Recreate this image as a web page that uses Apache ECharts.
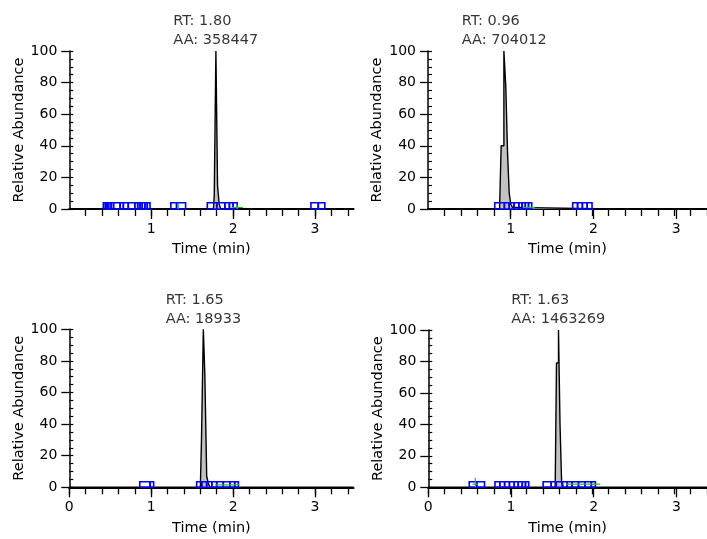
<!DOCTYPE html>
<html><head><meta charset="utf-8">
<script src="https://cdn.jsdelivr.net/npm/echarts@6/dist/echarts.min.js"></script>
<style>html,body{margin:0;padding:0;background:#fff}#c{width:707px;height:539px}</style>
</head><body><div id="c"></div>
<script>
// ---------- DATA ----------
const panelRT = [1.80, 0.96, 1.65, 1.63];
const panelRTText = ['1.80', '0.96', '1.65', '1.63'];
const panelAA = ['358447', '704012', '18933', '1463269'];
const xTickLabels = ['0', '1', '2', '3'];
const yTickStep = 20;
const xName = 'Time (min)';
const yName = 'Relative Abundance';

// chromatogram traces [time, relative abundance] (scan-by-scan)
const trace1 = [[0,0],[1.76,0],[1.78,9],[1.80,100],[1.82,15],[1.84,3],[1.86,0],[3.47,0]];
const trace2 = [[0,0],[0.89,0],[0.93,40],[0.958,100],[0.978,77],[1.00,36],[1.02,10],[1.04,3],[1.06,1],[1.09,0],[3.47,0]];
const trace3 = [[0,0],[1.60,0],[1.628,30],[1.645,100],[1.665,71],[1.69,7],[1.71,2],[1.73,0],[3.47,0]];
const trace4 = [[0,0],[1.58,0],[1.612,79],[1.63,100],[1.65,40],[1.67,3],[1.69,0],[3.47,0]];

// detected-peak box edges (time), groups of adjacent boxes
const boxes1 = [[0.415,0.44,0.46,0.48,0.51,0.54,0.62,0.66,0.72,0.80,0.835,0.863,0.89,0.924,0.952,0.985],[1.24,1.31,1.42],[1.685,1.80,1.90,1.955,2.0,2.05],[2.95,3.04,3.12]];
const boxes2 = [[0.83,0.95,1.01,1.07,1.13,1.17,1.21,1.25,1.29],[1.80,1.86,1.92,1.98,2.04]];
const boxes3 = [[0.86,0.985,1.03],[1.555,1.617,1.677,1.74,1.80,1.88,1.96,2.02,2.064]];
const boxes4 = [[0.51,0.605,0.70],[0.83,0.89,0.95,1.01,1.07,1.12,1.17,1.21,1.25],[1.43,1.53,1.59,1.67,1.73,1.79,1.87,1.95,2.03,2.08]];
const boxHeight = [4, 4, 3.5, 3.5];

// baseline markers [t0, y0, t1, y1]
const green1 = [[1.33,0,1.33,4],[1.98,1,2.12,1],[2.05,0,2.05,2.5]];
const green2 = [[1.18,1,1.33,1]];
const green3 = [[1.78,1.5,2.08,1.5]];
const green4 = [[0.585,0,0.585,6],[0.55,2,0.62,2],[1.72,2,2.14,2]];

const xMax = 3.47;

// ---------- LAYOUT ----------
const traces = [trace1, trace2, trace3, trace4];
const boxes = [boxes1, boxes2, boxes3, boxes4];
const greens = [green1, green2, green3, green4];
const panels = [
  {x0: 69.3, top: 51, h: 158, s: 81.9, topRow: true},
  {x0: 428, top: 51, h: 158, s: 82.7, topRow: true},
  {x0: 69.3, top: 329.3, h: 158, s: 81.9, topRow: false},
  {x0: 428.3, top: 330, h: 157.3, s: 82.7, topRow: false}
];
const FONT = '"DejaVu Sans", Arial, sans-serif';
const TXT = '#000';

const mctx = document.createElement('canvas').getContext('2d');
mctx.font = '14.5px "DejaVu Sans"';

const grids = [], xAxes = [], yAxes = [], series = [];

panels.forEach((p, i) => {
  // main grid
  const g = grids.length;
  grids.push({left: p.x0, top: p.top, width: xMax * p.s, height: p.h});
  const xi = xAxes.length;
  xAxes.push({
    gridIndex: g, type: 'value', min: 0, max: xMax,
    axisLine: {show: true, onZero: false, lineStyle: {color: '#000', width: 2.2}},
    axisTick: {show: false}, axisLabel: {show: false}, splitLine: {show: false},
    name: xName, nameLocation: 'middle', nameGap: 33,
    nameTextStyle: {color: TXT, fontFamily: FONT, fontSize: 14.5}
  });
  const yi = yAxes.length;
  yAxes.push({
    gridIndex: g, type: 'value', min: 0, max: 100, interval: yTickStep,
    axisLine: {show: true, lineStyle: {color: '#000', width: 1.5}},
    axisTick: {show: true, length: 8, lineStyle: {color: '#000', width: 1.3}},
    axisLabel: {margin: 12, color: TXT, fontFamily: FONT, fontSize: 14},
    splitLine: {show: false},
    name: yName, nameLocation: 'middle', nameGap: 43, nameRotate: 90,
    nameTextStyle: {color: TXT, fontFamily: FONT, fontSize: 14.5}
  });
  yAxes.push({
    gridIndex: g, type: 'value', min: 0, max: 100, interval: 5, position: 'left',
    axisLine: {show: false},
    axisTick: {show: true, inside: true, length: 4, lineStyle: {color: '#000', width: 1.2}},
    axisLabel: {show: false}, splitLine: {show: false}
  });

  // minor tick grid (every 0.2 min)
  const minStart = p.topRow ? 0.2 : 0;
  const gm = grids.length;
  grids.push({left: p.x0 + minStart * p.s, top: p.top, width: (3.4 - minStart) * p.s, height: p.h});
  xAxes.push({
    gridIndex: gm, type: 'value', min: minStart, max: 3.4, interval: 0.2,
    axisLine: {show: false}, axisLabel: {show: false}, splitLine: {show: false},
    axisTick: {show: true, length: 7, lineStyle: {color: '#000', width: 1.3}}
  });
  yAxes.push({gridIndex: gm, type: 'value', min: 0, max: 1, show: false});

  // major tick grid (every 1 min, labelled)
  const majStart = p.topRow ? 1 : 0;
  const gj = grids.length;
  grids.push({left: p.x0 + majStart * p.s, top: p.top, width: (3 - majStart) * p.s, height: p.h});
  xAxes.push({
    gridIndex: gj, type: 'value', min: majStart, max: 3, interval: 1,
    axisLine: {show: false}, splitLine: {show: false},
    axisTick: {show: true, length: 10, lineStyle: {color: '#000', width: 1.3}},
    axisLabel: {margin: 13, color: TXT, fontFamily: FONT, fontSize: 14,
      formatter: v => xTickLabels[Math.round(v)]}
  });
  yAxes.push({gridIndex: gj, type: 'value', min: 0, max: 1, show: false});

  // trace with integrated area
  series.push({
    type: 'line', step: 'middle', xAxisIndex: xi, yAxisIndex: yi, data: traces[i],
    symbol: 'none', silent: true, z: 3,
    lineStyle: {color: '#000', width: 1.4},
    areaStyle: {color: '#c2c2c2', opacity: 1}
  });

  // blue boxes
  const bdata = [];
  boxes[i].forEach(grp => {
    for (let k = 0; k < grp.length - 1; k++) bdata.push([grp[k], grp[k + 1], boxHeight[i]]);
  });
  series.push({
    type: 'custom', xAxisIndex: xi, yAxisIndex: yi, data: bdata, silent: true, z: 4,
    encode: {x: [0, 1], y: 2},
    renderItem: (params, api) => {
      const a = api.coord([api.value(0), api.value(2)]);
      const b = api.coord([api.value(1), 0]);
      return {type: 'rect', shape: {x: a[0], y: a[1], width: b[0] - a[0], height: b[1] - a[1]},
        style: {fill: 'none', stroke: '#0000ff', lineWidth: 1.6}};
    }
  });

  // green markers
  series.push({
    type: 'custom', xAxisIndex: xi, yAxisIndex: yi, data: greens[i], silent: true, z: 5,
    encode: {x: [0, 2], y: [1, 3]},
    renderItem: (params, api) => {
      const a = api.coord([api.value(0), api.value(1)]);
      const b = api.coord([api.value(2), api.value(3)]);
      return {type: 'line', shape: {x1: a[0], y1: a[1], x2: b[0], y2: b[1]},
        style: {stroke: '#2fb52f', lineWidth: 1.2}};
    }
  });

  // RT / AA annotation
  const l1 = 'RT: ' + panelRTText[i], l2 = 'AA: ' + panelAA[i];
  const w = Math.max(mctx.measureText(l1).width, mctx.measureText(l2).width);
  series.push({
    type: 'scatter', xAxisIndex: xi, yAxisIndex: yi, data: [[panelRT[i], 100]],
    symbolSize: 0, silent: true, z: 6,
    label: {show: true, position: 'top', distance: 1, align: 'left', offset: [-w / 2 - 1, 0],
      formatter: l1 + '\n' + l2, color: TXT, fontFamily: FONT, fontSize: 14.5, lineHeight: 19}
  });
});

const chart = echarts.init(document.getElementById('c'), null, {renderer: 'canvas'});
chart.setOption({
  backgroundColor: '#fff', animation: false,
  grid: grids, xAxis: xAxes, yAxis: yAxes, series: series
});
</script>
</body></html>
